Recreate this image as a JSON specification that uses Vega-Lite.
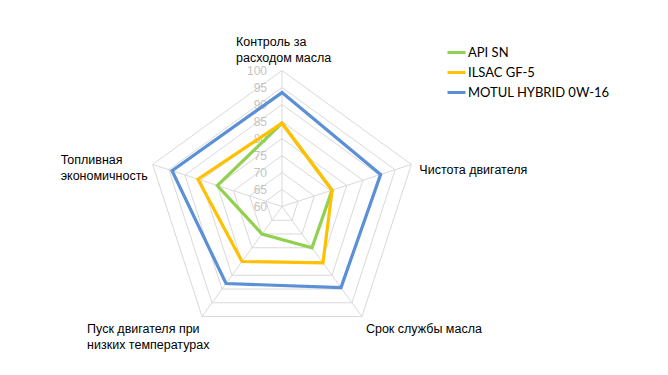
{
  "$schema": "https://vega.github.io/schema/vega-lite/v6.json",
  "width": 668,
  "height": 375,
  "padding": 0,
  "autosize": "none",
  "background": "white",
  "config": {"view": {"stroke": null}},
  "datasets": {
    "scores": [
      {"series": "API SN", "i": 0, "value": 84.5},
      {"series": "API SN", "i": 1, "value": 75.5},
      {"series": "API SN", "i": 2, "value": 75},
      {"series": "API SN", "i": 3, "value": 70},
      {"series": "API SN", "i": 4, "value": 80},
      {"series": "ILSAC GF-5", "i": 0, "value": 84.5},
      {"series": "ILSAC GF-5", "i": 1, "value": 75.5},
      {"series": "ILSAC GF-5", "i": 2, "value": 80.5},
      {"series": "ILSAC GF-5", "i": 3, "value": 80},
      {"series": "ILSAC GF-5", "i": 4, "value": 86},
      {"series": "MOTUL HYBRID 0W-16", "i": 0, "value": 93.5},
      {"series": "MOTUL HYBRID 0W-16", "i": 1, "value": 90.5},
      {"series": "MOTUL HYBRID 0W-16", "i": 2, "value": 89.5},
      {"series": "MOTUL HYBRID 0W-16", "i": 3, "value": 88},
      {"series": "MOTUL HYBRID 0W-16", "i": 4, "value": 94}
    ],
    "axes": [
      {"i": 0, "label": ["Контроль за", "расходом масла"]},
      {"i": 1, "label": ["Чистота двигателя"]},
      {"i": 2, "label": ["Срок службы масла"]},
      {"i": 3, "label": ["Пуск двигателя при", "низких температурах"]},
      {"i": 4, "label": ["Топливная", "экономичность"]}
    ],
    "rings": [
      {"ring": 65, "i": [0, 1, 2, 3, 4]},
      {"ring": 70, "i": [0, 1, 2, 3, 4]},
      {"ring": 75, "i": [0, 1, 2, 3, 4]},
      {"ring": 80, "i": [0, 1, 2, 3, 4]},
      {"ring": 85, "i": [0, 1, 2, 3, 4]},
      {"ring": 90, "i": [0, 1, 2, 3, 4]},
      {"ring": 95, "i": [0, 1, 2, 3, 4]},
      {"ring": 100, "i": [0, 1, 2, 3, 4]}
    ],
    "ticks": [
      {"tick": 60}, {"tick": 65}, {"tick": 70}, {"tick": 75}, {"tick": 80},
      {"tick": 85}, {"tick": 90}, {"tick": 95}, {"tick": 100}
    ]
  },
  "layer": [
    {
      "data": {"name": "rings"},
      "transform": [
        {"flatten": ["i"]},
        {"calculate": "(datum.ring - 60) * 3.4 * sin(datum.i * 2 * PI / 5)", "as": "x"},
        {"calculate": "(datum.ring - 60) * 3.4 * cos(datum.i * 2 * PI / 5)", "as": "y"}
      ],
      "mark": {"type": "line", "interpolate": "linear-closed", "stroke": "#d9d9d9", "strokeWidth": 1},
      "encoding": {
        "x": {"field": "x", "type": "quantitative", "scale": {"domain": [-282, 386], "nice": false, "zero": false}, "axis": null},
        "y": {"field": "y", "type": "quantitative", "scale": {"domain": [-168.5, 206.5], "nice": false, "zero": false}, "axis": null},
        "detail": {"field": "ring"},
        "order": {"field": "i"}
      }
    },
    {
      "data": {"name": "axes"},
      "transform": [
        {"calculate": "136 * sin(datum.i * 2 * PI / 5)", "as": "x"},
        {"calculate": "136 * cos(datum.i * 2 * PI / 5)", "as": "y"}
      ],
      "mark": {"type": "rule", "stroke": "#d9d9d9", "strokeWidth": 1},
      "encoding": {
        "x": {"field": "x", "type": "quantitative"},
        "y": {"field": "y", "type": "quantitative"},
        "x2": {"datum": 0},
        "y2": {"datum": 0}
      }
    },
    {
      "data": {"name": "ticks"},
      "transform": [
        {"calculate": "(datum.tick - 60) * 3.4", "as": "y"}
      ],
      "mark": {"type": "text", "align": "right", "baseline": "middle", "dx": -15, "font": "Liberation Sans", "fontSize": 12, "fill": "#c4c4c4"},
      "encoding": {
        "x": {"datum": 0},
        "y": {"field": "y", "type": "quantitative"},
        "text": {"field": "tick"}
      }
    },
    {
      "data": {"name": "scores"},
      "transform": [
        {"calculate": "(datum.value - 60) * 3.4 * sin(datum.i * 2 * PI / 5)", "as": "x"},
        {"calculate": "(datum.value - 60) * 3.4 * cos(datum.i * 2 * PI / 5)", "as": "y"}
      ],
      "mark": {"type": "line", "interpolate": "linear-closed", "strokeWidth": 3.2},
      "encoding": {
        "x": {"field": "x", "type": "quantitative"},
        "y": {"field": "y", "type": "quantitative"},
        "order": {"field": "i"},
        "color": {
          "field": "series",
          "type": "nominal",
          "scale": {"domain": ["API SN", "ILSAC GF-5", "MOTUL HYBRID 0W-16"], "range": ["#92D050", "#FFC000", "#5B8FD6"]},
          "legend": {
            "title": null,
            "orient": "none",
            "legendX": 446,
            "legendY": 42,
            "padding": 0,
            "symbolType": "stroke",
            "symbolSize": 324,
            "symbolStrokeWidth": 3,
            "labelFont": "Lato",
            "labelFontSize": 13,
            "labelColor": "#000000",
            "labelOffset": 1,
            "rowPadding": 2
          }
        }
      }
    },
    {
      "data": {"name": "axes"},
      "transform": [
        {"calculate": "136 * sin(datum.i * 2 * PI / 5)", "as": "x"},
        {"calculate": "136 * cos(datum.i * 2 * PI / 5)", "as": "y"}
      ],
      "mark": {
        "type": "text",
        "align": "left",
        "baseline": "middle",
        "font": "Liberation Sans",
        "fontSize": 12.5,
        "lineHeight": 16,
        "fill": "#000000",
        "dx": {"expr": "[-46, 8, 4, -115, -92][datum.i]"},
        "dy": {"expr": "[-29, 5.5, 12, 12, -4.5][datum.i]"}
      },
      "encoding": {
        "x": {"field": "x", "type": "quantitative"},
        "y": {"field": "y", "type": "quantitative"},
        "text": {"field": "label"}
      }
    }
  ]
}
